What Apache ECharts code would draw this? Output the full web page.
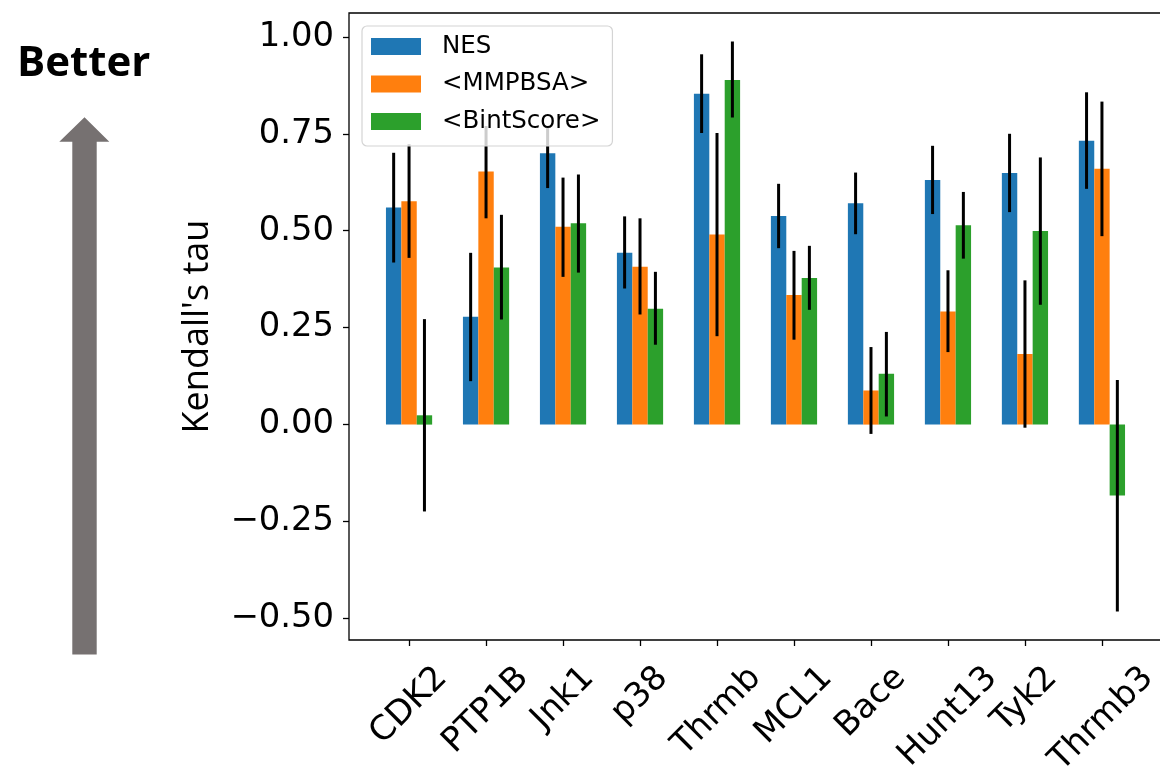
<!DOCTYPE html>
<html>
<head>
<meta charset="utf-8">
<script src="https://cdn.jsdelivr.net/npm/echarts@6/dist/echarts.min.js"></script>
<style>
  html, body { margin: 0; padding: 0; background: #fff; }
  #chart { width: 1160px; height: 767px; }
</style>
</head>
<body>
<div id="chart"></div>
<script>
var categories = ['CDK2', 'PTP1B', 'Jnk1', 'p38', 'Thrmb', 'MCL1', 'Bace', 'Hunt13', 'Tyk2', 'Thrmb3'];

var nesValues = [0.560, 0.278, 0.700, 0.443, 0.853, 0.538, 0.571, 0.631, 0.649, 0.732];
var nesLower = [0.418, 0.112, 0.610, 0.351, 0.752, 0.455, 0.491, 0.543, 0.548, 0.608];
var nesUpper = [0.701, 0.443, 0.765, 0.537, 0.955, 0.621, 0.650, 0.719, 0.750, 0.857];

var mmpbsaValues = [0.576, 0.653, 0.510, 0.407, 0.490, 0.334, 0.088, 0.292, 0.182, 0.660];
var mmpbsaLower = [0.430, 0.532, 0.381, 0.284, 0.228, 0.219, -0.024, 0.187, -0.008, 0.486];
var mmpbsaUpper = [0.723, 0.770, 0.637, 0.532, 0.752, 0.448, 0.200, 0.398, 0.372, 0.833];

var bintValues = [0.024, 0.405, 0.519, 0.299, 0.889, 0.378, 0.131, 0.514, 0.499, -0.183];
var bintLower = [-0.224, 0.271, 0.392, 0.206, 0.792, 0.296, 0.021, 0.428, 0.309, -0.482];
var bintUpper = [0.272, 0.541, 0.645, 0.394, 0.988, 0.461, 0.239, 0.600, 0.689, 0.115];

var yTicks = [-0.5, -0.25, 0, 0.25, 0.5, 0.75, 1.0];
var xTicks = [0, 1, 2, 3, 4, 5, 6, 7, 8, 9];

var barWidth = 0.2;
var tickFont = 33.8;

// bar + error bar for one series, offset from the category position
function makeSeries(name, color, offset, values, lower, upper) {
	var data = [];
	for (var i = 0; i < values.length; i++) {
		data.push([i + offset, values[i], lower[i], upper[i]]);
	}
	return {
		name: name,
		type: 'custom',
		itemStyle: { color: color },
		encode: { x: 0, y: 1 },
		data: data,
		renderItem: function(params, api) {
			var x = api.value(0);
			var p0 = api.coord([x - barWidth / 2, api.value(1)]);
			var p1 = api.coord([x + barWidth / 2, 0]);
			var lo = api.coord([x, api.value(2)]);
			var hi = api.coord([x, api.value(3)]);
			return {
				type: 'group',
				children: [{
					type: 'rect',
					shape: {
						x: p0[0],
						y: Math.min(p0[1], p1[1]),
						width: p1[0] - p0[0],
						height: Math.abs(p1[1] - p0[1])
					},
					style: { fill: color }
				}, {
					type: 'line',
					shape: { x1: lo[0], y1: lo[1], x2: hi[0], y2: hi[1] },
					style: { stroke: '#000', lineWidth: 3 }
				}]
			};
		}
	};
}

// per-label padding so rotated labels are centred under their tick (like matplotlib)
var measureCtx = document.createElement('canvas').getContext('2d');
measureCtx.font = tickFont + 'px "DejaVu Sans"';
var rich = {};
for (var k = 0; k < categories.length; k++) {
	var w = measureCtx.measureText(categories[k]).width;
	var pad = (w + 39) / 2;
	rich['l' + k] = {
		fontFamily: 'DejaVu Sans',
		fontSize: tickFont,
		color: '#000',
		padding: [pad, pad, 0, 0]
	};
}

function yLabel(v) {
	var s = Math.abs(v).toFixed(2);
	return v < 0 ? '\u2212' + s : s;
}

var chart = echarts.init(document.getElementById('chart'));

var option = {
	backgroundColor: '#fff',
	animation: false,
	grid: {
		left: 349,
		top: 13,
		width: 813,
		height: 627,
		containLabel: false,
		outerBoundsMode: 'none',
		show: true,
		borderColor: '#000',
		borderWidth: 1.3,
		backgroundColor: 'transparent'
	},
	legend: {
		orient: 'vertical',
		left: 362,
		top: 26,
		icon: 'rect',
		itemWidth: 50,
		itemHeight: 17,
		itemGap: 12.5,
		padding: [8, 12, 12, 9],
		backgroundColor: 'rgba(255,255,255,0.8)',
		borderColor: '#d4d4d4',
		borderWidth: 1.2,
		borderRadius: 5,
		textStyle: {
			fontFamily: 'DejaVu Sans',
			fontSize: 24.5,
			lineHeight: 24,
			color: '#000',
			padding: [0, 0, 0, 16]
		},
		data: ['NES', '<MMPBSA>', '<BintScore>']
	},
	xAxis: {
		type: 'value',
		min: -0.78,
		max: 9.78,
		splitLine: { show: false },
		axisLine: { show: false, onZero: false },
		axisTick: {
			customValues: xTicks,
			length: 6,
			lineStyle: { color: '#000', width: 1.3 }
		},
		axisLabel: {
			customValues: xTicks,
			rotate: 45,
			align: 'center',
			verticalAlign: 'middle',
			margin: 19,
			formatter: function(v) {
				var i = Math.round(v);
				return '{l' + i + '|' + categories[i] + '}';
			},
			rich: rich
		}
	},
	yAxis: {
		type: 'value',
		min: -0.5555,
		max: 1.0615,
		name: "Kendall's tau",
		nameLocation: 'middle',
		nameRotate: 90,
		nameGap: 133,
		nameTextStyle: {
			fontFamily: 'Open Sans',
			fontSize: 36,
			color: '#000'
		},
		splitLine: { show: false },
		axisLine: { show: false, onZero: false },
		axisTick: {
			customValues: yTicks,
			length: 6,
			lineStyle: { color: '#000', width: 1.3 }
		},
		axisLabel: {
			customValues: yTicks,
			margin: 15,
			fontFamily: 'DejaVu Sans',
			fontSize: tickFont,
			color: '#000',
			formatter: yLabel
		}
	},
	graphic: [{
		type: 'polygon',
		shape: {
			points: [[72.3, 654.6], [96.7, 654.6], [96.7, 141.7], [109.3, 141.7],
				[84.5, 117.3], [59.3, 141.7], [72.3, 141.7]]
		},
		style: { fill: '#767171' }
	}, {
		type: 'text',
		left: 17,
		top: 43,
		style: {
			text: 'Better',
			font: 'bold 42px "Open Sans"',
			fill: '#000'
		}
	}],
	series: [
		makeSeries('NES', '#1f77b4', -0.2, nesValues, nesLower, nesUpper),
		makeSeries('<MMPBSA>', '#ff7f0e', 0, mmpbsaValues, mmpbsaLower, mmpbsaUpper),
		makeSeries('<BintScore>', '#2ca02c', 0.2, bintValues, bintLower, bintUpper)
	]
};

chart.setOption(option);
</script>
</body>
</html>
